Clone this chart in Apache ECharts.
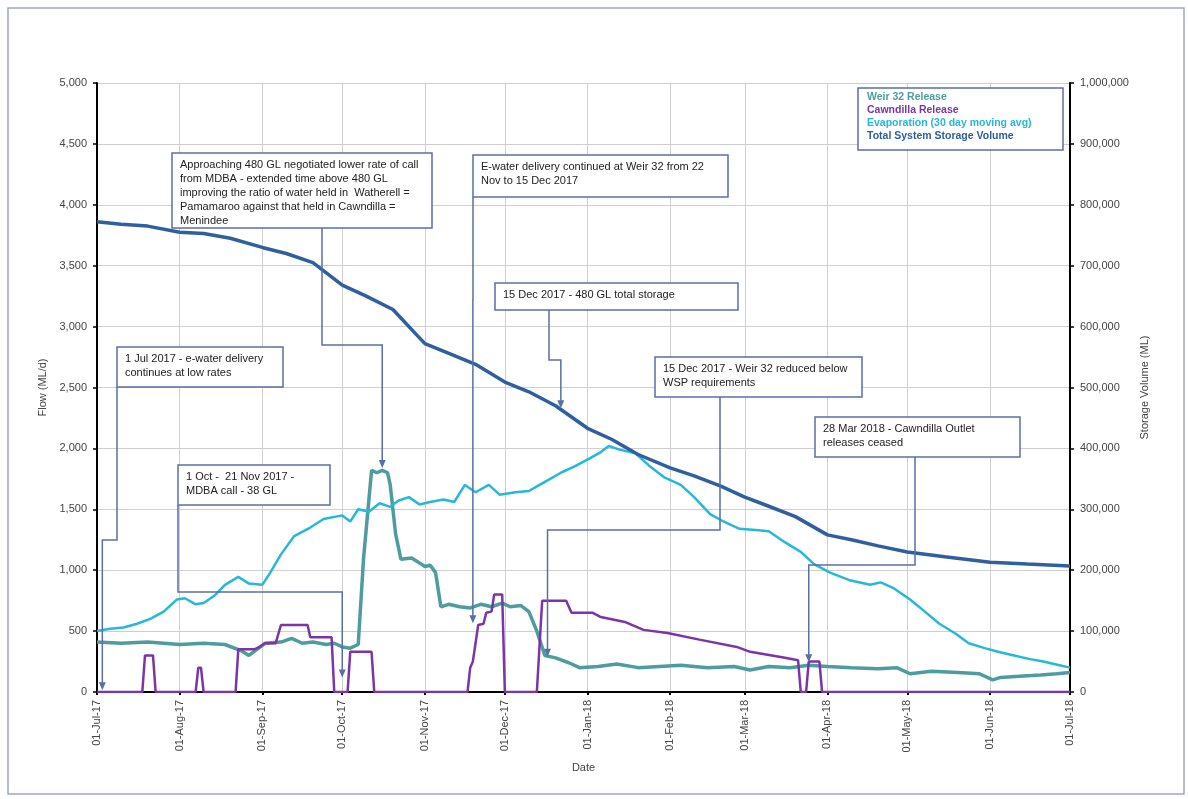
<!DOCTYPE html>
<html>
<head>
<meta charset="utf-8">
<script src="https://cdn.jsdelivr.net/npm/echarts@6/dist/echarts.min.js"></script>
<style>
html,body{margin:0;padding:0;background:#fff;}
#chart{width:1188px;height:799px;}
</style>
</head>
<body>
<div id="chart"></div>
<script>
// ---------- DATA ----------
const startDay = '2017-07-01';
const endDay = '2018-07-01';
const flowTicks = [0, 500, 1000, 1500, 2000, 2500, 3000, 3500, 4000, 4500, 5000];
const storageTicks = [0, 100000, 200000, 300000, 400000, 500000, 600000, 700000, 800000, 900000, 1000000];
const seriesNames = ['Weir 32 Release', 'Cawndilla Release', 'Evaporation (30 day moving avg)', 'Total System Storage Volume'];

const weir32Release = [
  ['2017-07-01',410],['2017-07-10',400],['2017-07-20',410],['2017-08-01',390],['2017-08-10',400],
  ['2017-08-18',390],['2017-08-24',340],['2017-08-27',300],['2017-08-30',350],['2017-09-02',400],
  ['2017-09-08',410],['2017-09-12',440],['2017-09-16',400],['2017-09-20',410],['2017-09-25',390],
  ['2017-09-28',400],['2017-10-01',370],['2017-10-04',360],['2017-10-07',390],['2017-10-09',1100],
  ['2017-10-12',1820],['2017-10-14',1800],['2017-10-16',1820],['2017-10-18',1800],['2017-10-19',1700],
  ['2017-10-21',1300],['2017-10-23',1090],['2017-10-27',1100],['2017-10-30',1060],['2017-11-01',1030],
  ['2017-11-03',1040],['2017-11-05',980],['2017-11-07',700],['2017-11-10',720],['2017-11-14',700],
  ['2017-11-18',690],['2017-11-22',720],['2017-11-26',700],['2017-11-30',730],['2017-12-03',700],
  ['2017-12-07',710],['2017-12-10',660],['2017-12-13',500],['2017-12-16',300],['2017-12-20',280],
  ['2017-12-25',240],['2017-12-29',200],['2018-01-05',210],['2018-01-12',230],['2018-01-20',200],
  ['2018-01-28',210],['2018-02-05',220],['2018-02-15',200],['2018-02-25',210],['2018-03-03',180],
  ['2018-03-10',210],['2018-03-18',200],['2018-03-25',220],['2018-04-01',210],['2018-04-10',200],
  ['2018-04-20',190],['2018-04-27',200],['2018-05-02',150],['2018-05-10',170],['2018-05-20',160],
  ['2018-05-28',150],['2018-06-02',100],['2018-06-05',120],['2018-06-12',130],['2018-06-20',140],
  ['2018-06-26',150],['2018-07-01',160]
];

const cawndillaRelease = [
  ['2017-07-01',0],['2017-07-18',0],['2017-07-19',300],['2017-07-22',300],['2017-07-23',0],
  ['2017-08-07',0],['2017-08-08',200],['2017-08-09',200],['2017-08-10',0],['2017-08-22',0],
  ['2017-08-23',350],['2017-08-29',350],['2017-08-31',370],['2017-09-02',400],['2017-09-06',400],
  ['2017-09-08',550],['2017-09-18',550],['2017-09-19',450],['2017-09-27',450],['2017-09-28',0],
  ['2017-10-03',0],['2017-10-04',330],['2017-10-12',330],['2017-10-13',0],['2017-11-17',0],
  ['2017-11-18',200],['2017-11-19',250],['2017-11-21',550],['2017-11-23',560],['2017-11-24',650],
  ['2017-11-26',660],['2017-11-27',800],['2017-11-30',800],['2017-12-01',0],['2017-12-13',0],
  ['2017-12-15',750],['2017-12-24',750],['2017-12-26',650],['2018-01-03',650],['2018-01-06',615],
  ['2018-01-15',575],['2018-01-22',510],['2018-01-31',485],['2018-02-12',430],['2018-02-26',370],
  ['2018-03-03',330],['2018-03-15',285],['2018-03-21',260],['2018-03-22',0],['2018-03-24',0],
  ['2018-03-25',250],['2018-03-29',250],['2018-03-30',0],['2018-07-01',0]
];

const evaporation = [
  ['2017-07-01',500],['2017-07-06',520],['2017-07-11',530],['2017-07-16',560],['2017-07-21',600],
  ['2017-07-26',660],['2017-07-31',760],['2017-08-03',770],['2017-08-07',720],['2017-08-10',730],
  ['2017-08-14',790],['2017-08-18',880],['2017-08-23',945],['2017-08-27',890],['2017-09-01',880],
  ['2017-09-04',980],['2017-09-08',1130],['2017-09-13',1280],['2017-09-19',1350],['2017-09-24',1420],
  ['2017-10-01',1450],['2017-10-04',1400],['2017-10-07',1500],['2017-10-11',1480],['2017-10-15',1550],
  ['2017-10-19',1520],['2017-10-22',1570],['2017-10-26',1600],['2017-10-30',1540],['2017-11-03',1560],
  ['2017-11-08',1580],['2017-11-12',1560],['2017-11-16',1700],['2017-11-20',1640],['2017-11-25',1700],
  ['2017-11-29',1620],['2017-12-05',1640],['2017-12-10',1650],['2017-12-14',1700],['2017-12-18',1750],
  ['2017-12-22',1800],['2017-12-27',1850],['2018-01-02',1920],['2018-01-06',1970],['2018-01-09',2020],
  ['2018-01-13',1990],['2018-01-19',1960],['2018-01-24',1860],['2018-01-30',1760],['2018-02-05',1700],
  ['2018-02-10',1600],['2018-02-16',1460],['2018-02-21',1400],['2018-02-27',1340],['2018-03-05',1330],
  ['2018-03-10',1320],['2018-03-16',1230],['2018-03-22',1150],['2018-03-27',1050],['2018-04-02',980],
  ['2018-04-09',920],['2018-04-17',880],['2018-04-21',900],['2018-04-26',850],['2018-05-02',760],
  ['2018-05-07',670],['2018-05-13',560],['2018-05-19',480],['2018-05-24',400],['2018-05-30',360],
  ['2018-06-04',330],['2018-06-10',300],['2018-06-16',270],['2018-06-21',250],['2018-06-27',220],
  ['2018-07-01',200]
];

const storageVolume = [
  ['2017-07-01',772000],['2017-07-10',768000],['2017-07-20',765000],['2017-08-01',755000],
  ['2017-08-10',753000],['2017-08-20',745000],['2017-09-01',730000],['2017-09-10',720000],
  ['2017-09-20',705000],['2017-10-01',668000],['2017-10-10',650000],['2017-10-20',628000],
  ['2017-11-01',572000],['2017-11-10',556000],['2017-11-20',538000],['2017-12-01',509000],
  ['2017-12-10',493000],['2017-12-20',470000],['2018-01-01',433000],['2018-01-10',415000],
  ['2018-01-20',390000],['2018-02-01',368000],['2018-02-10',355000],['2018-02-20',338000],
  ['2018-03-01',320000],['2018-03-10',305000],['2018-03-20',288000],['2018-04-01',258000],
  ['2018-04-10',250000],['2018-04-20',240000],['2018-05-01',230000],['2018-05-15',222000],
  ['2018-06-01',213000],['2018-06-15',210000],['2018-07-01',207000]
];

// annotations: text, box (layout), connector start & elbow (layout), target [date, flow]
const annotations = [
  {text:'1 Jul 2017 - e-water delivery\ncontinues at low rates', box:[117,347,166,40], start:[117,387], elbowY:540, target:['2017-07-03',15]},
  {text:'1 Oct -  21 Nov 2017 -\nMDBA call - 38 GL', box:[178,465,152,40], start:[178,505], elbowY:592, target:['2017-10-01',120]},
  {text:'Approaching 480 GL negotiated lower rate of call\nfrom MDBA - extended time above 480 GL\nimproving the ratio of water held in  Watherell =\nPamamaroo against that held in Cawndilla =\nMenindee', box:[172,153,260,75], start:[322,228], elbowY:345, target:['2017-10-16',1840]},
  {text:'E-water delivery continued at Weir 32 from 22\nNov to 15 Dec 2017', box:[473,155,255,42], start:[473,197], elbowY:300, target:['2017-11-19',565]},
  {text:'15 Dec 2017 - 480 GL total storage', box:[495,283,243,27], start:[549,310], elbowY:360, target:['2017-12-22',2330]},
  {text:'15 Dec 2017 - Weir 32 reduced below\nWSP requirements', box:[655,357,207,40], start:[720,397], elbowY:530, target:['2017-12-17',290]},
  {text:'28 Mar 2018 - Cawndilla Outlet\nreleases ceased', box:[815,417,205,40], start:[915,457], elbowY:565, target:['2018-03-25',245]}
];

// ---------- AXIS CATEGORIES (daily) ----------
const days = [];
(function(){
  let t = Date.parse(startDay + 'T00:00:00Z');
  const e = Date.parse(endDay + 'T00:00:00Z');
  while (t <= e) { days.push(new Date(t).toISOString().slice(0,10)); t += 86400000; }
})();
const MON = ['Jan','Feb','Mar','Apr','May','Jun','Jul','Aug','Sep','Oct','Nov','Dec'];
function fmtDate(s){ return s.slice(8,10) + '-' + MON[+s.slice(5,7)-1] + '-' + s.slice(2,4); }
function isMonthStart(i, v){ return String(v).slice(8,10) === '01'; }
function fmtNum(v){ return String(v).replace(/\B(?=(\d{3})+(?!\d))/g, ','); }

const FONT = 'Liberation Sans, Arial, sans-serif';
const colors = ['#4E9C9E', '#7A35A6', '#25B8DA', '#2F5F9E'];

const chart = echarts.init(document.getElementById('chart'), null, {renderer:'canvas'});
chart.setOption({
  animation: false,
  backgroundColor: '#fff',
  textStyle: {fontFamily: FONT},
  grid: {left: 97, right: 118, top: 83, bottom: 107, containLabel: false},
  xAxis: {
    type: 'category', data: days, boundaryGap: false,
    name: 'Date', nameLocation: 'middle', nameGap: 70,
    nameTextStyle: {color: '#444', fontSize: 11, fontFamily: FONT},
    axisLine: {lineStyle: {color: '#000', width: 2}},
    axisTick: {show: true, interval: isMonthStart, length: 3, lineStyle: {color: '#000', width: 2}},
    axisLabel: {interval: isMonthStart, rotate: 90, formatter: fmtDate, color: '#444', fontSize: 11, margin: 8, fontFamily: FONT},
    splitLine: {show: true, interval: isMonthStart, lineStyle: {color: '#CFCFCF', width: 1}}
  },
  yAxis: [
    {
      type: 'value', min: flowTicks[0], max: flowTicks[flowTicks.length-1], interval: flowTicks[1]-flowTicks[0],
      name: 'Flow (ML/d)', nameLocation: 'middle', nameGap: 40, nameRotate: 90,
      nameTextStyle: {color: '#444', fontSize: 11, fontFamily: FONT},
      axisLine: {show: true, lineStyle: {color: '#000', width: 2}},
      axisTick: {show: true, length: 4, lineStyle: {color: '#000', width: 1.5}},
      axisLabel: {formatter: fmtNum, color: '#444', fontSize: 11, margin: 10, fontFamily: FONT},
      splitLine: {show: true, lineStyle: {color: '#CFCFCF', width: 1}}
    },
    {
      type: 'value', min: storageTicks[0], max: storageTicks[storageTicks.length-1], interval: storageTicks[1]-storageTicks[0],
      name: 'Storage Volume (ML)', nameLocation: 'middle', nameGap: 65, nameRotate: 90,
      nameTextStyle: {color: '#444', fontSize: 11, fontFamily: FONT},
      axisLine: {show: true, lineStyle: {color: '#000', width: 2}},
      axisTick: {show: true, length: 4, lineStyle: {color: '#000', width: 1.5}},
      axisLabel: {formatter: fmtNum, color: '#444', fontSize: 11, margin: 10, fontFamily: FONT},
      splitLine: {show: false}
    }
  ],
  series: [
    {name: seriesNames[0], type: 'line', data: weir32Release, yAxisIndex: 0, showSymbol: false, z: 3,
     lineStyle: {color: colors[0], width: 3.5}, itemStyle: {color: colors[0]}},
    {name: seriesNames[2], type: 'line', data: evaporation, yAxisIndex: 0, showSymbol: false, z: 4,
     lineStyle: {color: colors[2], width: 2.5}, itemStyle: {color: colors[2]}},
    {name: seriesNames[3], type: 'line', data: storageVolume, yAxisIndex: 1, showSymbol: false, z: 5,
     lineStyle: {color: colors[3], width: 3.5}, itemStyle: {color: colors[3]}},
    {name: seriesNames[1], type: 'line', data: cawndillaRelease, yAxisIndex: 0, showSymbol: false, z: 6,
     lineStyle: {color: colors[1], width: 2.5}, itemStyle: {color: colors[1]}}
  ]
});

// ---------- ANNOTATIONS & LEGEND ----------
const BOX = '#5A6FA6';
const graphics = [];
graphics.push({type: 'rect', silent: true, z: 0,
  shape: {x: 8, y: 8, width: 1176, height: 786},
  style: {fill: 'none', stroke: '#9AA8C8', lineWidth: 1.5}});

annotations.forEach(function(a){
  const idx = days.indexOf(a.target[0]);
  const p = chart.convertToPixel({xAxisIndex: 0, yAxisIndex: 0}, [idx, a.target[1]]);
  const tx = p[0], ty = p[1];
  const pts = [a.start, [a.start[0], a.elbowY], [tx, a.elbowY], [tx, ty - 6]];
  graphics.push({type: 'polyline', silent: true, z: 50, shape: {points: pts},
    style: {stroke: BOX, lineWidth: 1.5, fill: null}});
  graphics.push({type: 'polygon', silent: true, z: 50,
    shape: {points: [[tx-3.5, ty-8], [tx+3.5, ty-8], [tx, ty]]},
    style: {fill: BOX}});
  graphics.push({type: 'rect', silent: true, z: 60,
    shape: {x: a.box[0], y: a.box[1], width: a.box[2], height: a.box[3]},
    style: {fill: '#fff', stroke: BOX, lineWidth: 1.5}});
  graphics.push({type: 'text', silent: true, z: 61,
    x: a.box[0] + 8, y: a.box[1] + 5,
    style: {text: a.text, font: '11px ' + FONT, fill: '#222', lineHeight: 14}});
});

// legend box
graphics.push({type: 'rect', silent: true, z: 60,
  shape: {x: 858, y: 88, width: 205, height: 62},
  style: {fill: '#fff', stroke: BOX, lineWidth: 1.5}});
seriesNames.forEach(function(n, i){
  graphics.push({type: 'text', silent: true, z: 61,
    x: 867, y: 92 + i * 13,
    style: {text: n, font: 'bold 10.5px ' + FONT, fill: colors[i]}});
});

chart.setOption({graphic: graphics});
</script>
</body>
</html>
